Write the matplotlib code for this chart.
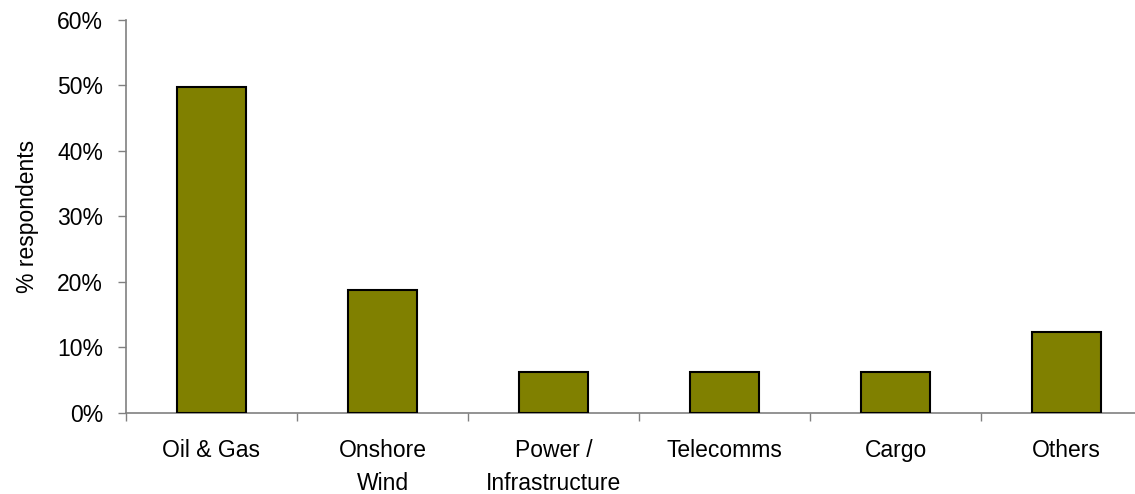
import numpy as np
import matplotlib.pyplot as plt
from matplotlib.ticker import FixedLocator, PercentFormatter

plt.rcParams['font.family'] = ['Liberation Sans', 'DejaVu Sans']

# Dados
categories = ['Oil & Gas', 'Onshore\nWind', 'Power /\nInfrastructure', 'Telecomms', 'Cargo', 'Others']
values = [49.8, 18.7, 6.2, 6.2, 6.2, 12.4]
yticks = [0, 10, 20, 30, 40, 50, 60]

fig = plt.figure(figsize=(11.35, 4.94), dpi=100)
ax = fig.add_axes([126 / 1135, 81.3 / 494, 1026 / 1135, 392.7 / 494])

x = np.arange(len(categories))
ax.bar(x, values, width=0.405, color='#808000', edgecolor='black', linewidth=1.5, zorder=3)

ax.set_xlim(-0.5, len(categories) - 0.5)
ax.set_ylim(0, 60)
ax.set_yticks(yticks)
ax.yaxis.set_major_formatter(PercentFormatter(decimals=0))

ax.set_xticks(x)
ax.set_xticklabels(categories, linespacing=1.55)
ax.xaxis.set_minor_locator(FixedLocator(np.arange(len(categories) + 1) - 0.5))
ax.tick_params(axis='x', which='major', length=0, pad=19, labelsize=16.5)
ax.tick_params(axis='x', which='minor', length=6, width=1, color='#808080', direction='out')
ax.tick_params(axis='y', length=5.5, width=1, color='#808080', pad=11, labelsize=16.5)

ax.set_ylabel('% respondents', fontsize=16.5, labelpad=13)

for side in ['top', 'right']:
    ax.spines[side].set_visible(False)
for side in ['left', 'bottom']:
    ax.spines[side].set_color('#808080')
    ax.spines[side].set_linewidth(1.2)

fig.savefig('out.png', dpi=100)
